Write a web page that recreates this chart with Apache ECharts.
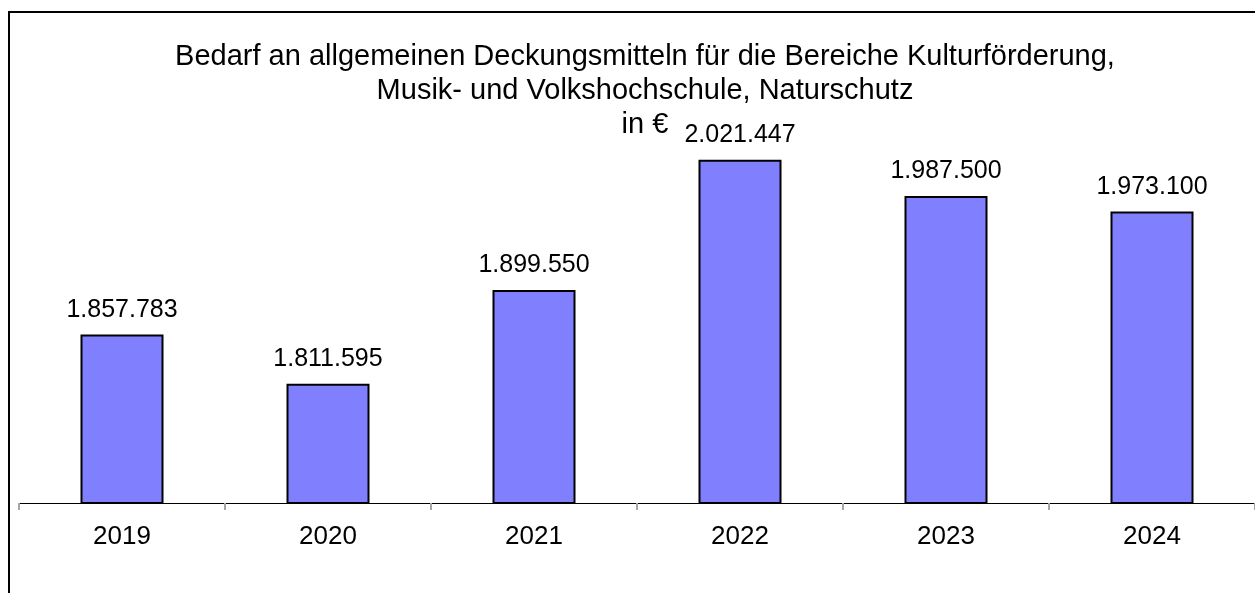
<!doctype html>
<html>
<head>
<meta charset="utf-8">
<title>Bedarf an allgemeinen Deckungsmitteln</title>
<script src="https://cdn.jsdelivr.net/npm/echarts@6/dist/echarts.min.js"></script>
<style>
    html,body{
        margin: 0;
        width: 100%;
        height: 100%;
        background: #fff;
    }
    #chart{
        width: 1255px;
        height: 593px;
    }
</style>
</head>
<body>
    <div id="chart"></div>
<script>
    var years = ['2019', '2020', '2021', '2022', '2023', '2024'];
    var values = [1857783, 1811595, 1899550, 2021447, 1987500, 1973100];
    var titleLines = [
        'Bedarf an allgemeinen Deckungsmitteln für die Bereiche Kulturförderung,',
        'Musik- und Volkshochschule, Naturschutz',
        'in €'
    ];

    var font = '"Liberation Sans", Arial, sans-serif';

    // Tausenderpunkt wie im Original
    function fmt(v){
        return String(v).replace(/\B(?=(\d{3})+(?!\d))/g, '.');
    }

    var chart = echarts.init(document.getElementById('chart'));
    var option = {
        animation: false,
        grid: {
            left: 19,
            top: 76,
            width: 1238,
            bottom: 90
        },
        xAxis: {
            type: 'category',
            data: years,
            axisLine: { lineStyle: { color: '#000', width: 1 } },
            axisTick: { show: true, alignWithLabel: false, length: 7, lineStyle: { color: '#a6a6a6', width: 2 } },
            axisLabel: {
                color: '#000',
                fontFamily: font,
                fontSize: 26,
                margin: 21
            }
        },
        yAxis: {
            type: 'value',
            min: 1700000,
            max: 2100000,
            show: false,
            splitLine: { show: false }
        },
        series: [{
            type: 'bar',
            data: values,
            barWidth: 83,
            itemStyle: {
                color: '#8080ff',
                borderColor: '#000',
                borderWidth: 2
            },
            label: {
                show: true,
                position: 'top',
                distance: 12,
                color: '#000',
                fontFamily: font,
                fontSize: 25,
                formatter: function(p){ return fmt(p.value); }
            }
        }],
        graphic: [
            {
                type: 'rect',
                shape: { x: 9, y: 12, width: 1300, height: 700 },
                style: { fill: null, stroke: '#000', lineWidth: 2 },
                silent: true
            },
            {
                type: 'text', x: 645, y: 56.5,
                style: { text: titleLines[0], font: '29px ' + font, fill: '#000', textAlign: 'center', textVerticalAlign: 'middle' }
            },
            {
                type: 'text', x: 645, y: 90.5,
                style: { text: titleLines[1], font: '29px ' + font, fill: '#000', textAlign: 'center', textVerticalAlign: 'middle' }
            },
            {
                type: 'text', x: 645, y: 124.5,
                style: { text: titleLines[2], font: '29px ' + font, fill: '#000', textAlign: 'center', textVerticalAlign: 'middle' }
            }
        ]
    };
    chart.setOption(option);
</script>
</body>
</html>
